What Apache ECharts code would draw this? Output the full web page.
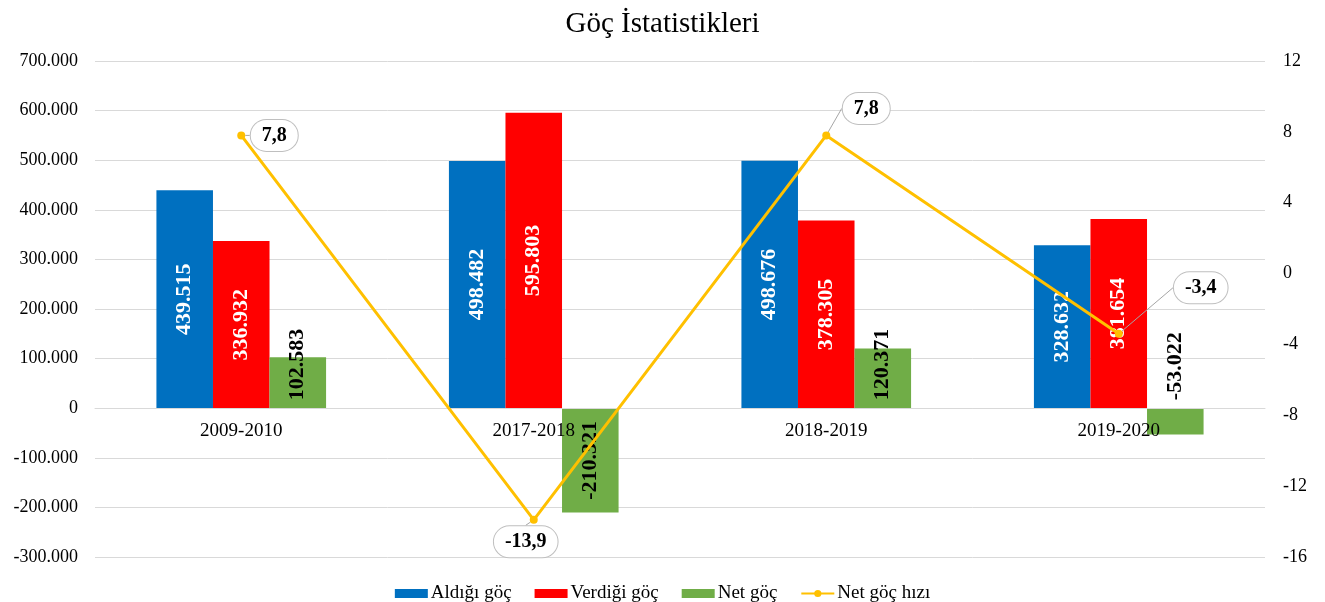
<!DOCTYPE html>
<html><head><meta charset="utf-8">
<script src="https://cdn.jsdelivr.net/npm/echarts@6/dist/echarts.min.js"></script>
<style>html,body{margin:0;padding:0;background:#fff}#c{width:1325px;height:602px}</style>
</head><body><div id="c"></div>
<script>
const categories = ['2009-2010', '2017-2018', '2018-2019', '2019-2020'];
const aldigi = [439515, 498482, 498676, 328632];
const verdigi = [336932, 595803, 378305, 381654];
const net = [102583, -210321, 120371, -53022];
const netRate = [7.8, -13.9, 7.8, -3.4];
const leftTicks = { min: -300000, max: 700000, interval: 100000 };
const rightTicks = { min: -16, max: 12, interval: 4 };

const FONT = "'Liberation Serif', 'Times New Roman', serif";
const fmtThousands = v => {
  const s = Math.abs(Math.round(v)).toString().replace(/\B(?=(\d{3})+(?!\d))/g, '.');
  return (v < 0 ? '-' : '') + s;
};
const fmtRate = v => v.toFixed(1).replace('.', ',');

const GRID = { left: 95, right: 60, top: 61, bottom: 45 };
const plotH = 602 - GRID.top - GRID.bottom;
const zeroOffset = -plotH * (0 - leftTicks.min) / (leftTicks.max - leftTicks.min);

const barLabelWhite = {
  show: true, position: 'inside', rotate: 90, color: '#fff', fontFamily: FONT,
  fontSize: 22, fontWeight: 'bold', formatter: p => fmtThousands(p.value)
};

const netData = net.map(v => {
  let label;
  if (v >= 0) {
    label = { position: 'insideBottom', align: 'left', verticalAlign: 'middle', distance: 8 };
  } else if (v < -100000) {
    label = { position: 'inside', align: 'center', verticalAlign: 'middle' };
  } else {
    label = { position: 'top', align: 'left', verticalAlign: 'middle', distance: 8 };
  }
  return { value: v, label };
});

const rateOffsets = [[33, 0], [-8, 22], [40, -27], [82, -46]];

const chart = echarts.init(document.getElementById('c'), null, { renderer: 'canvas' });
chart.setOption({
  animation: false,
  backgroundColor: '#fff',
  title: {
    text: 'Göç İstatistikleri', left: 'center', top: 5,
    textStyle: { fontFamily: FONT, fontSize: 29, fontWeight: 'normal', color: '#000' }
  },
  grid: GRID,
  legend: {
    top: 579, left: 'center', itemGap: 23, itemWidth: 33, itemHeight: 9,
    textStyle: { fontFamily: FONT, fontSize: 19, color: '#000', padding: [0, 0, 0, -2] },
    data: [
      { name: 'Aldığı göç', icon: 'rect' },
      { name: 'Verdiği göç', icon: 'rect' },
      { name: 'Net göç', icon: 'rect' },
      { name: 'Net göç hızı' }
    ]
  },
  xAxis: {
    type: 'category', data: categories, offset: zeroOffset, z: 3,
    axisLine: { onZero: false, lineStyle: { color: '#d9d9d9' } },
    axisTick: { show: false },
    axisLabel: { fontFamily: FONT, fontSize: 19, color: '#000', margin: 13 }
  },
  yAxis: [
    {
      type: 'value', min: leftTicks.min, max: leftTicks.max, interval: leftTicks.interval,
      axisLine: { show: false }, axisTick: { show: false },
      splitLine: { lineStyle: { color: '#d9d9d9', width: 1 } },
      axisLabel: { fontFamily: FONT, fontSize: 18, color: '#000', margin: 17, formatter: fmtThousands }
    },
    {
      type: 'value', min: rightTicks.min, max: rightTicks.max, interval: rightTicks.interval,
      axisLine: { show: false }, axisTick: { show: false }, splitLine: { show: false },
      axisLabel: { fontFamily: FONT, fontSize: 18, color: '#000', margin: 18 }
    }
  ],
  series: [
    {
      name: 'Aldığı göç', type: 'bar', data: aldigi, barGap: '0%', barCategoryGap: '42%',
      itemStyle: { color: '#0070C0' }, label: barLabelWhite
    },
    {
      name: 'Verdiği göç', type: 'bar', data: verdigi,
      itemStyle: { color: '#FF0000' }, label: barLabelWhite
    },
    {
      name: 'Net göç', type: 'bar', data: netData,
      itemStyle: { color: '#70AD47' },
      label: {
        show: true, rotate: 90, color: '#000', fontFamily: FONT, fontSize: 22, fontWeight: 'bold',
        formatter: p => fmtThousands(p.value)
      }
    },
    {
      name: 'Net göç hızı', type: 'line', yAxisIndex: 1, data: netRate,
      symbol: 'circle', symbolSize: 8, z: 5,
      itemStyle: { color: '#FFC000' }, lineStyle: { color: '#FFC000', width: 3 },
      label: {
        show: true, position: 'inside', fontFamily: FONT, fontSize: 20, fontWeight: 'bold', color: '#000',
        backgroundColor: '#fff', borderColor: '#bfbfbf', borderWidth: 1, borderRadius: 18,
        padding: [6, 11, 5, 11], formatter: p => fmtRate(p.value)
      },
      labelLine: { show: true, lineStyle: { color: '#a6a6a6', width: 1 } },
      labelLayout: p => ({ dx: rateOffsets[p.dataIndex][0], dy: rateOffsets[p.dataIndex][1] })
    }
  ]
});
</script></body></html>
